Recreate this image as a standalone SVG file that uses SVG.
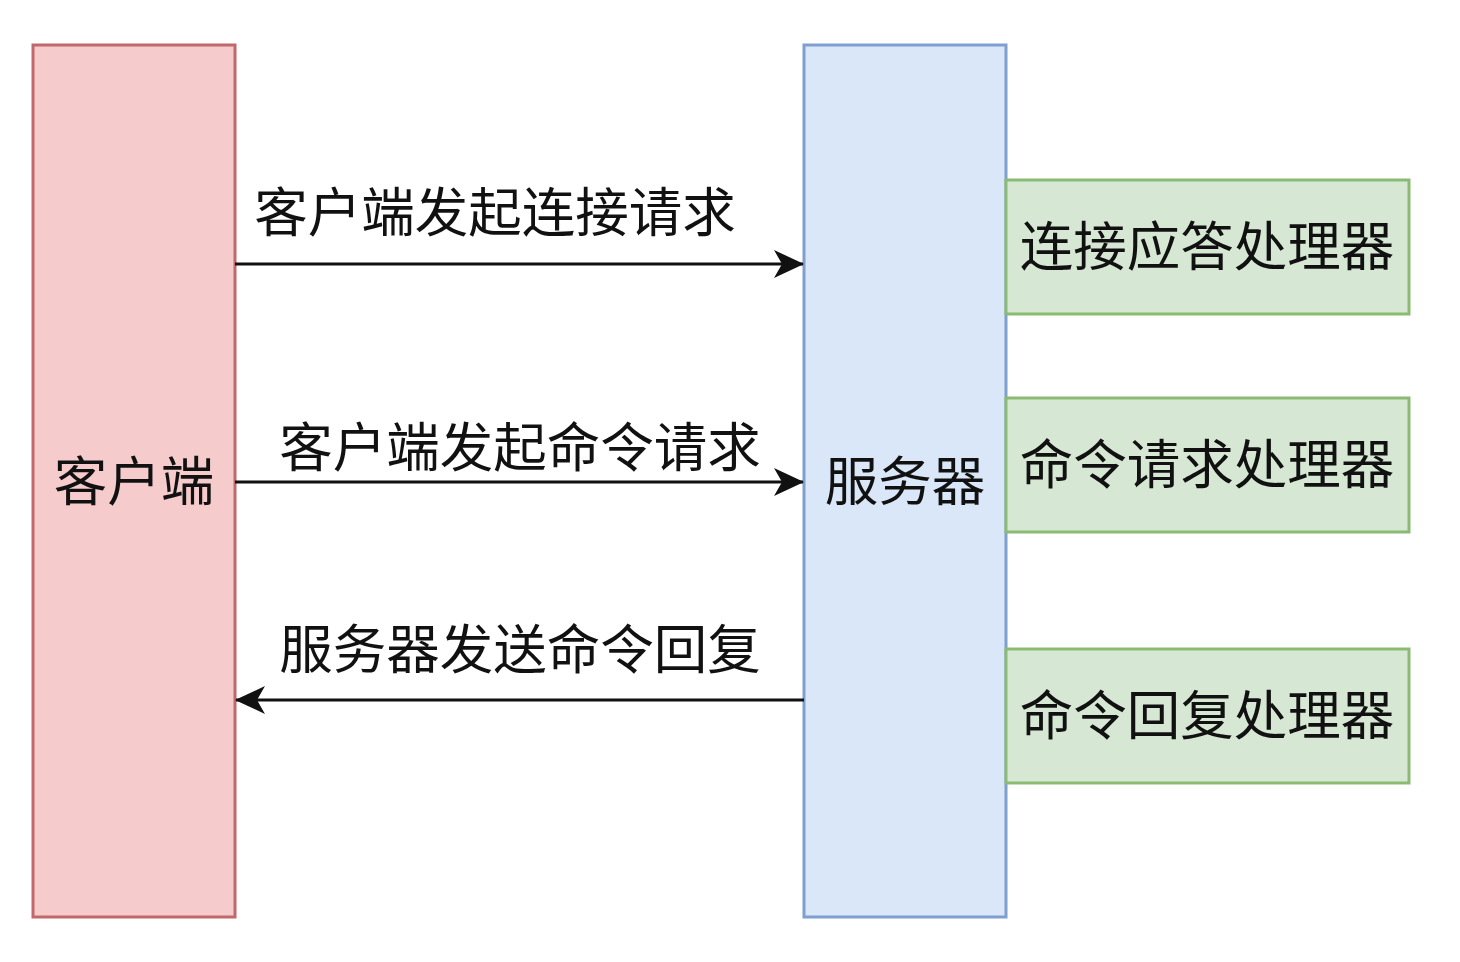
<svg xmlns="http://www.w3.org/2000/svg" width="1460" height="962" viewBox="0 0 1460 962">
<style>
text{font-family:"Liberation Sans","Noto Sans CJK SC",sans-serif;font-size:53.5px;fill:#111;dominant-baseline:central}
.client{fill:#f5cbcc;stroke:#c0686a;stroke-width:3}
.server{fill:#d9e7f8;stroke:#7f9fcf;stroke-width:3}
.handler{fill:#d6e8d4;stroke:#8bbb72;stroke-width:3}
.conn{stroke:#111;stroke-width:3;fill:none}
</style>
<defs>
<marker id="arr" viewBox="0 0 30 28" refX="29" refY="14" markerWidth="30" markerHeight="28" markerUnits="userSpaceOnUse" orient="auto">
<path d="M0,0 L30,14 L0,28 L8,14 Z" fill="#111"/>
</marker>
</defs>
<rect width="1460" height="962" fill="#fff"/>
<g id="client"><rect class="client" x="33" y="45" width="202" height="872"/><text x="134" y="482" text-anchor="middle">客户端</text></g>
<g id="server"><rect class="server" x="804" y="45" width="202" height="872"/><text x="905" y="482" text-anchor="middle">服务器</text></g>
<g id="h1"><rect class="handler" x="1006" y="180" width="403" height="134"/><text x="1207" y="247" text-anchor="middle">连接应答处理器</text></g>
<g id="h2"><rect class="handler" x="1006" y="398" width="403" height="134"/><text x="1207" y="465" text-anchor="middle">命令请求处理器</text></g>
<g id="h3"><rect class="handler" x="1006" y="649" width="403" height="134"/><text x="1207" y="716" text-anchor="middle">命令回复处理器</text></g>
<g id="connectors">
<line class="conn" x1="235" y1="264" x2="803" y2="264" marker-end="url(#arr)"/>
<line class="conn" x1="235" y1="482" x2="803" y2="482" marker-end="url(#arr)"/>
<line class="conn" x1="804" y1="700" x2="236" y2="700" marker-end="url(#arr)"/>
<text x="495" y="213" text-anchor="middle">客户端发起连接请求</text>
<text x="520" y="448" text-anchor="middle">客户端发起命令请求</text>
<text x="520" y="650" text-anchor="middle">服务器发送命令回复</text>
</g>
</svg>
